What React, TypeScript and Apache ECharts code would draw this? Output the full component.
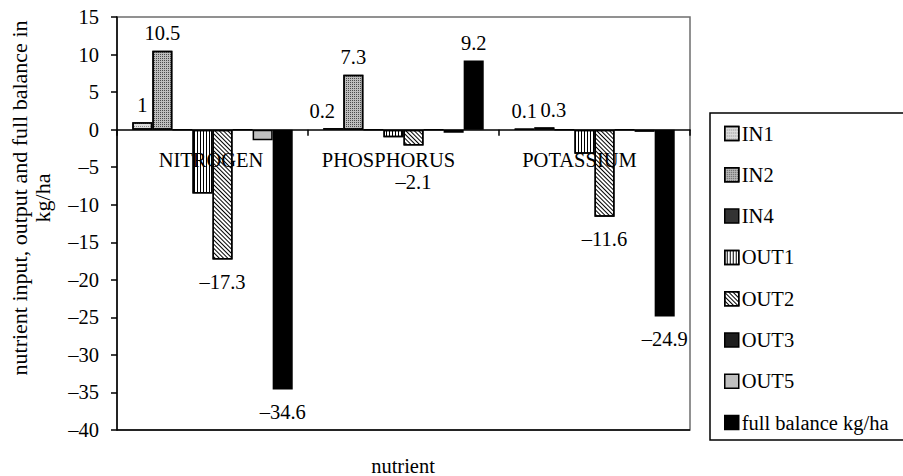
import React, { useEffect, useRef } from "react";
import * as echarts from "echarts";

const categories = ["NITROGEN", "PHOSPHORUS", "POTASSIUM"];
const seriesNames = ["IN1", "IN2", "IN4", "OUT1", "OUT2", "OUT3", "OUT5", "full balance kg/ha"];
const in1 = [1, 0.2, 0.1];
const in2 = [10.5, 7.3, 0.3];
const in4 = [0, 0, 0];
const out1 = [-8.5, -1.0, -3.2];
const out2 = [-17.3, -2.1, -11.6];
const out3 = [0, 0, 0];
const out5 = [-1.4, -0.4, -0.3];
const fullBalance = [-34.6, 9.2, -24.9];
const yTicks = { min: -40, max: 15, interval: 5 };
const xName = "nutrient";
const yName = "nutrient input, output and full balance in\nkg/ha";

const FONT = "Liberation Serif, serif";
const FS = 20.5;

const GRID = { left: 117, right: 213, top: 17, bottom: 46 };
const H = 476;

const seriesValues = [in1, in2, in4, out1, out2, out3, out5, fullBalance];
const labelled = [true, true, false, false, true, false, false, true];

const styles: any[] = [
  { color: "#dcdcdc", decal: { symbol: "rect", symbolSize: 1, color: "#8c8c8c", dashArrayX: [1, 1], dashArrayY: [1, 2] } },
  { color: "#bdbdbd", decal: { symbol: "rect", symbolSize: 1, color: "#4a4a4a", dashArrayX: [1, 1], dashArrayY: [1, 1] } },
  { color: "#333333" },
  { color: "#ffffff", decal: { symbol: "rect", symbolSize: 1, color: "#000000", dashArrayX: [1, 0], dashArrayY: [1, 2], rotation: Math.PI / 2 } },
  { color: "#ffffff", decal: { symbol: "rect", symbolSize: 1, color: "#000000", dashArrayX: [1, 0], dashArrayY: [1, 2], rotation: Math.PI / 4 } },
  { color: "#1e1e1e" },
  { color: "#c0c0c0" },
  { color: "#000000" },
];

// label fine-tuning per [series]-[category]
const labelTweaks: Record<string, any> = {
  "0-1": { offset: [-11, 0] },
  "1-2": { offset: [9, 0] },
  "4-1": { distance: 26 },
};

const fmt = (v: number) => (v < 0 ? "\u2013" + String(Math.abs(v)) : String(v));
const serifRich = { s: { fontFamily: FONT, fontSize: FS, color: "#000" } };

export default function App() {
  const ref = useRef<HTMLDivElement>(null);
  useEffect(() => {
    if (!ref.current) return;
    const chart = echarts.init(ref.current, null, { renderer: "svg" });
    const plotH = H - GRID.top - GRID.bottom;
    const zeroFromBottom = ((0 - yTicks.min) / (yTicks.max - yTicks.min)) * plotH;
    const series = seriesNames.map((name, si) => ({
      name,
      type: "bar",
      barGap: "0%",
      barCategoryGap: "16%",
      itemStyle: { ...styles[si], borderColor: "#000", borderWidth: 1.5 },
      data: seriesValues[si].map((v, ci) => {
        const tweak = labelTweaks[`${si}-${ci}`] || {};
        return {
          value: v,
          label: {
            show: labelled[si],
            position: v < 0 ? "bottom" : "top",
            distance: v < 0 ? 12 : 7,
            ...tweak,
          },
        };
      }),
      label: {
        show: labelled[si],
        fontFamily: FONT,
        fontSize: FS,
        color: "#000",
        formatter: (p: any) => "{s|" + fmt(p.value) + "}",
        rich: serifRich,
      },
      emphasis: { disabled: true },
    }));
    chart.setOption({
      animation: false,
      backgroundColor: "#fff",
      textStyle: { fontFamily: FONT, fontSize: FS },
      grid: {
        ...GRID,
        show: true, borderColor: "#6e6e6e", borderWidth: 1.5,
        containLabel: false,
      },
      legend: {
        orient: "vertical",
        left: 719, top: 118,
        itemWidth: 14, itemHeight: 14,
        itemGap: 20.3,
        icon: "rect",
        selectedMode: false,
        formatter: (n: string) => "{s|" + n + "}",
        textStyle: { fontFamily: FONT, fontSize: FS, color: "#000", lineHeight: 20, padding: [0, 0, 0, -2], rich: serifRich },
        itemStyle: { borderColor: "#000", borderWidth: 1.5 },
        data: seriesNames,
      },
      xAxis: {
        type: "category",
        position: "bottom",
        offset: -zeroFromBottom,
        z: 10,
        data: categories.map((c, i) => ({
          value: c,
          textStyle: { padding: i === 0 ? [0, 3, 0, 0] : [0, 30, 0, 0] },
        })),
        axisLine: { onZero: false, lineStyle: { color: "#000", width: 1.5 } },
        axisTick: { show: true, length: 6, lineStyle: { color: "#000", width: 1.5 } },
        axisLabel: {
          interval: 0,
          hideOverlap: false,
          fontFamily: FONT, fontSize: FS, color: "#000", margin: 20,
          formatter: (v: string) => "{s|" + v + "}",
          rich: serifRich,
        },
      },
      yAxis: {
        type: "value",
        min: yTicks.min, max: yTicks.max, interval: yTicks.interval,
        axisLine: { show: true, lineStyle: { color: "#000", width: 1.5 } },
        axisTick: { show: true, length: 6, lineStyle: { color: "#000", width: 1.5 } },
        splitLine: { show: false },
        axisLabel: {
          fontFamily: FONT, fontSize: FS, color: "#000", margin: 18,
          formatter: (v: number) => "{s|" + fmt(v) + "}",
          rich: serifRich,
        },
      },
      graphic: [
        {
          type: "rect",
          shape: { x: 710, y: 113, width: 200, height: 327 },
          style: { fill: "none", stroke: "#000", lineWidth: 1.5 },
          silent: true,
        },
        {
          type: "line",
          shape: { x1: GRID.left, y1: H - GRID.bottom, x2: 903 - GRID.right, y2: H - GRID.bottom },
          style: { stroke: "#000", lineWidth: 1.5 },
          silent: true,
        },
        {
          type: "text",
          x: 31, y: 198,
          rotation: Math.PI / 2,
          style: {
            text: yName, fontFamily: FONT, fontSize: 22, fill: "#000",
            align: "center", verticalAlign: "middle", lineHeight: 23,
          },
        },
        {
          type: "text",
          x: 403, y: 466,
          style: {
            text: xName, fontFamily: FONT, fontSize: FS, fill: "#000",
            align: "center", verticalAlign: "middle",
          },
        },
      ],
      series,
    });
    return () => chart.dispose();
  }, []);
  return (
    <div
      ref={ref}
      style={{ position: "fixed", left: 0, top: 0, width: 903, height: 476, background: "#fff" }}
    />
  );
}
